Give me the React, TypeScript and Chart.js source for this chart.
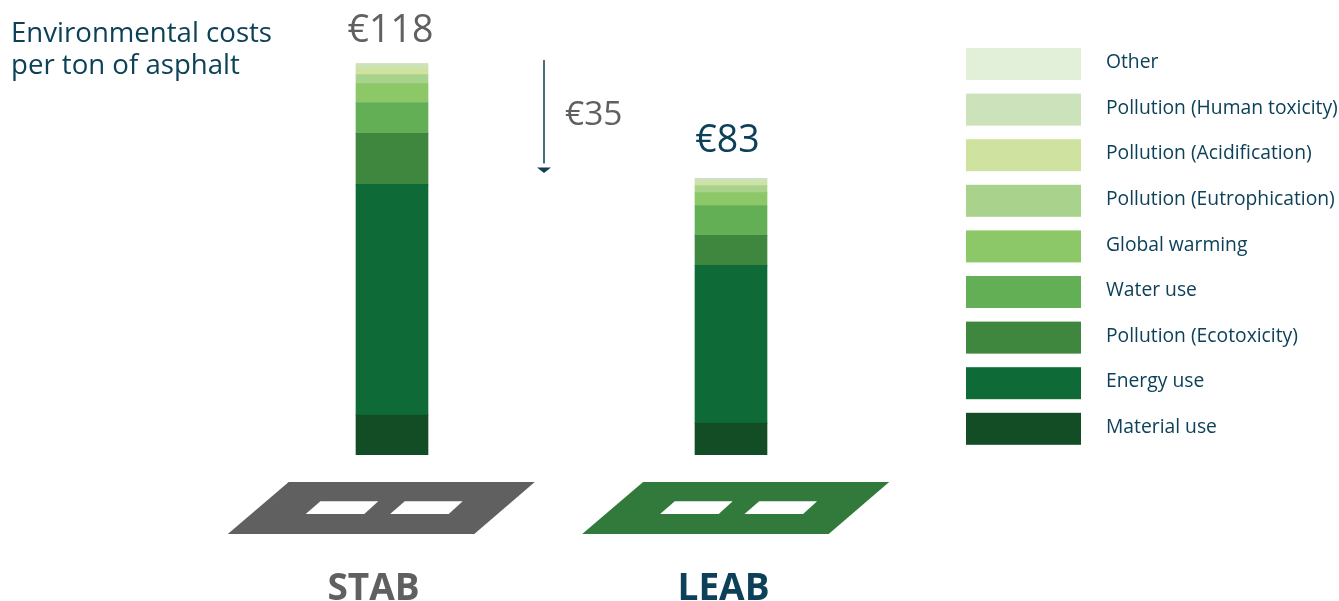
import React, { useEffect, useRef } from "react";
import { Chart, registerables } from "chart.js";

Chart.register(...registerables);

const categories = ["STAB", "LEAB"];
const seriesNames = [
  "Material use",
  "Energy use",
  "Pollution (Ecotoxicity)",
  "Water use",
  "Global warming",
  "Pollution (Eutrophication)",
  "Pollution (Acidification)",
  "Pollution (Human toxicity)",
  "Other",
];
const materialUse = [12.0, 9.6];
const energyUse = [69.5, 47.5];
const ecotoxicity = [15.3, 9.0];
const waterUse = [9.3, 9.0];
const globalWarming = [5.7, 3.9];
const eutrophication = [2.7, 2.1];
const acidification = [2.1, 0.9];
const humanToxicity = [1.2, 1.3];
const other = [0, 0];
const seriesColors = ["#134D25", "#0E6B38", "#3F873F", "#62AF56", "#8CC768", "#A9D38D", "#D0E29F", "#CCE2BA", "#E2EFD9"];
const seriesValues = [materialUse, energyUse, ecotoxicity, waterUse, globalWarming, eutrophication, acidification, humanToxicity, other];
const totalLabels = ["€118", "€83"];
const savingLabel = "€35";
const titleLines = ["Environmental costs", "per ton of asphalt"];

const FONT = '"Open Sans", sans-serif';
const TEAL = "#0C4159";
const GREY = "#5F605F";
const ROAD_COLORS = ["#5F605F", "#317A3C"];
const LABEL_COLORS = [GREY, TEAL];

const decorations = {
  id: "decorations",
  afterDatasetsDraw(chart: any) {
    const ctx = chart.ctx;
    const y = chart.scales.y;
    ctx.save();
    ctx.textBaseline = "alphabetic";

    // title
    ctx.fillStyle = TEAL;
    ctx.font = `27.6px ${FONT}`;
    ctx.textAlign = "left";
    titleLines.forEach((t, i) => ctx.fillText(t, 11, 42 + i * 32));

    // totals above bars
    const meta = chart.getDatasetMeta(0);
    const totalOffsets = [-1.5, -3.5];
    const totalLift = [21.5, 26];
    categories.forEach((_, i) => {
      const total = seriesValues.reduce((s, a) => s + a[i], 0);
      ctx.font = `37.5px ${FONT}`;
      ctx.fillStyle = LABEL_COLORS[i];
      ctx.textAlign = "center";
      ctx.fillText(totalLabels[i], meta.data[i].x + totalOffsets[i], y.getPixelForValue(total) - totalLift[i]);
    });

    // arrow
    ctx.strokeStyle = TEAL;
    ctx.lineWidth = 1.5;
    ctx.beginPath();
    ctx.moveTo(544, 60);
    ctx.lineTo(544, 163.5);
    ctx.stroke();
    ctx.fillStyle = TEAL;
    ctx.beginPath();
    ctx.moveTo(537, 167.5);
    ctx.lineTo(551, 167.5);
    ctx.lineTo(544, 173);
    ctx.closePath();
    ctx.fill();
    ctx.fillStyle = GREY;
    ctx.font = `33.5px ${FONT}`;
    ctx.textAlign = "left";
    ctx.fillText(savingLabel, 565, 125);

    // road icons and names
    categories.forEach((name, i) => {
      const dx = i * 354.4;
      ctx.fillStyle = ROAD_COLORS[i];
      ctx.beginPath();
      ctx.moveTo(288.7 + dx, 482);
      ctx.lineTo(534.8 + dx, 482);
      ctx.lineTo(474.3 + dx, 534);
      ctx.lineTo(227.8 + dx, 534);
      ctx.closePath();
      ctx.fill();
      ctx.fillStyle = "#FFFFFF";
      [0, 84.4].forEach((h) => {
        ctx.beginPath();
        ctx.moveTo(320.4 + dx + h, 501.3);
        ctx.lineTo(378.3 + dx + h, 501.3);
        ctx.lineTo(364.3 + dx + h, 514);
        ctx.lineTo(305.7 + dx + h, 514);
        ctx.closePath();
        ctx.fill();
      });
      ctx.fillStyle = LABEL_COLORS[i];
      ctx.font = `bold 37px ${FONT}`;
      ctx.textAlign = "center";
      ctx.fillText(name, 373.5 + i * 350, 600);
    });

    // legend
    ctx.font = `19.3px ${FONT}`;
    ctx.textAlign = "left";
    const legendColors = ["#E2EFD9", "#CCE2BA", "#D0E29F", "#A9D38D", "#8CC768", "#62AF56", "#3F873F", "#0E6B38", "#134D25"];
    chart.data.datasets
      .slice()
      .reverse()
      .forEach((ds: any, i: number) => {
        const top = 48 + i * 45.6;
        ctx.fillStyle = legendColors[i];
        ctx.fillRect(966, top, 115, 32);
        ctx.fillStyle = TEAL;
        ctx.fillText(ds.label, 1106, top + 20.2);
      });
    ctx.restore();
  },
};

export default function App() {
  const ref = useRef<HTMLCanvasElement>(null);
  useEffect(() => {
    const chart = new Chart(ref.current!, {
      type: "bar",
      data: {
        labels: categories,
        datasets: seriesNames.map((label, i) => ({
          label,
          data: seriesValues[i],
          backgroundColor: seriesColors[i],
          borderWidth: 0,
          barThickness: 72,
        })),
      },
      options: {
        responsive: false,
        animation: false,
        layout: { padding: { left: 222.5, right: 438.5, top: 63, bottom: 146 } },
        plugins: { legend: { display: false }, title: { display: false }, tooltip: { enabled: false } },
        scales: {
          x: { stacked: true, display: false },
          y: { stacked: true, display: false, min: 0, max: 118 },
        },
      },
      plugins: [decorations],
    });
    return () => chart.destroy();
  }, []);
  return (
    <div style={{ position: "absolute", left: 0, top: 0, width: 1339, height: 601, background: "#fff" }}>
      <canvas ref={ref} width={1339} height={601} style={{ display: "block" }} />
    </div>
  );
}
